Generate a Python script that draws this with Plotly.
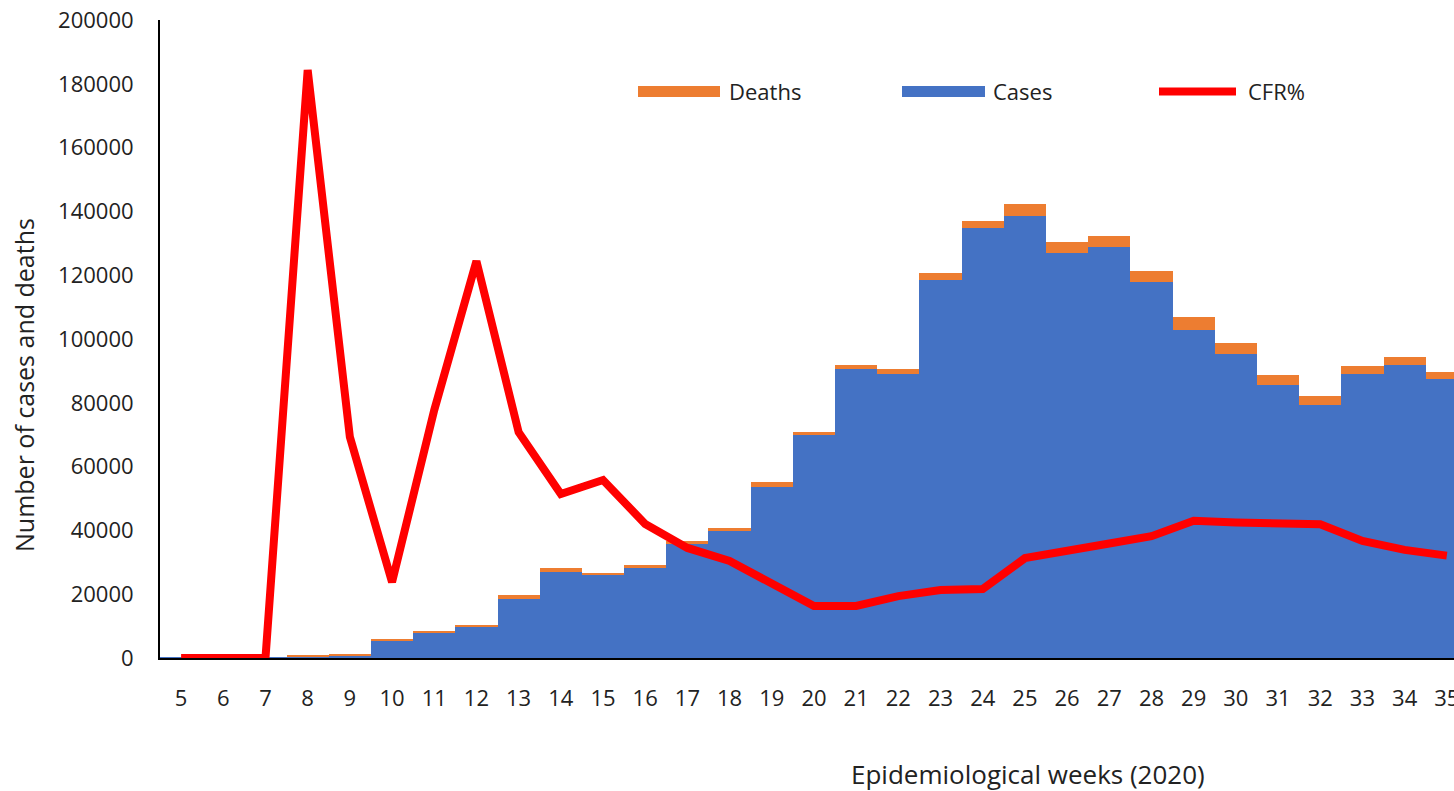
import plotly.graph_objects as go

weeks = list(range(5, 36))
week_labels = [str(w) for w in weeks]

cases = [20, 60, 150, 450, 900, 5200, 7800, 9800, 18500, 27000, 26000, 28200,
         35700, 39800, 53600, 69900, 90600, 89000, 118500, 134800, 138600,
         126900, 128700, 117900, 102800, 95300, 85600, 79200, 88900, 91800, 87400]
deaths = [0, 0, 0, 250, 350, 700, 700, 700, 1200, 1100, 800, 1000,
          1000, 900, 1600, 900, 1200, 1600, 2200, 2200, 3700,
          3400, 3600, 3500, 4000, 3300, 3000, 3000, 2600, 2700, 2300]
cfr = [0, 0, 0, 18.43, 6.93, 2.38, 7.77, 12.44, 7.08, 5.14, 5.58, 4.20,
       3.45, 3.04, 2.32, 1.63, 1.63, 1.94, 2.13, 2.16, 3.13,
       3.33, 3.59, 3.82, 4.30, 4.25, 4.24, 4.19, 3.67, 3.39, 3.21]

y_ticks = list(range(0, 200001, 20000))

C_CASES = "#4472C4"
C_DEATHS = "#ED7D31"
C_CFR = "#FF0000"
FONT = "Open Sans"

fig = go.Figure()
fig.add_trace(go.Bar(x=weeks, y=cases, name="Cases", marker=dict(color=C_CASES, line=dict(width=0)),
                     showlegend=False))
fig.add_trace(go.Bar(x=weeks, y=deaths, name="Deaths", marker=dict(color=C_DEATHS, line=dict(width=0)),
                     showlegend=False))
fig.add_trace(go.Scatter(x=weeks, y=cfr, name="CFR%", mode="lines", yaxis="y2",
                         line=dict(color=C_CFR, width=8), showlegend=False))

W, H = 1454, 791
L, T, R = 160, 20, 0
PLOT_BOTTOM = 658
B = H - PLOT_BOTTOM
pw, ph = W - L - R, H - T - B


def px(xs):
    return (xs - L) / pw


def py(ys):
    return (PLOT_BOTTOM - ys) / ph


shapes = [
    dict(type="rect", xref="paper", yref="paper", x0=px(638), x1=px(720), y0=py(97), y1=py(86),
         fillcolor=C_DEATHS, line=dict(width=0)),
    dict(type="rect", xref="paper", yref="paper", x0=px(902), x1=px(985), y0=py(97), y1=py(86),
         fillcolor=C_CASES, line=dict(width=0)),
    dict(type="line", xref="paper", yref="paper", x0=px(1159), x1=px(1236), y0=py(91.5), y1=py(91.5),
         line=dict(color=C_CFR, width=8)),
]
annotations = [
    dict(text="Deaths", xref="paper", yref="paper", x=px(727), y=py(91.5), xanchor="left", yanchor="middle",
         showarrow=False, font=dict(family=FONT, size=22, color="#222")),
    dict(text="Cases", xref="paper", yref="paper", x=px(991), y=py(91.5), xanchor="left", yanchor="middle",
         showarrow=False, font=dict(family=FONT, size=22, color="#222")),
    dict(text="CFR%", xref="paper", yref="paper", x=px(1246), y=py(91.5), xanchor="left", yanchor="middle",
         showarrow=False, font=dict(family=FONT, size=22, color="#222")),
    dict(text="Number of cases and deaths", xref="paper", yref="paper", x=px(24), y=py(385),
         xanchor="center", yanchor="middle", textangle=-90, showarrow=False,
         font=dict(family=FONT, size=25, color="#222")),
    dict(text="Epidemiological weeks (2020)", xref="paper", yref="paper", x=px(1028), y=py(774),
         xanchor="center", yanchor="middle", showarrow=False,
         font=dict(family=FONT, size=26, color="#222")),
]

fig.update_layout(
    width=W, height=H,
    margin=dict(l=L, r=R, t=T, b=B, pad=0, autoexpand=False),
    paper_bgcolor="white", plot_bgcolor="white",
    barmode="stack", bargap=0,
    font=dict(family=FONT, size=22, color="#222"),
    shapes=shapes, annotations=annotations,
    xaxis=dict(range=[4.5, 35.17], tickvals=weeks, ticktext=week_labels, showgrid=False, zeroline=False,
               showline=True, linecolor="black", linewidth=2, ticks="", ticklabelstandoff=20,
               ticklabeloverflow="allow", automargin=False,
               tickfont=dict(family=FONT, size=22, color="#222")),
    yaxis=dict(range=[0, 200000], tickvals=y_ticks, tickformat="d", showgrid=False, zeroline=False,
               showline=True, linecolor="black", linewidth=2, ticks="", ticklabelstandoff=20,
               ticklabeloverflow="allow", automargin=False,
               tickfont=dict(family=FONT, size=22, color="#222")),
    yaxis2=dict(range=[0, 20], overlaying="y", side="right", visible=False, showgrid=False,
                automargin=False),
)

fig.write_html("out.html", config={"displayModeBar": False},
               post_script="document.body.style.margin='0';document.body.style.overflow='hidden';")
